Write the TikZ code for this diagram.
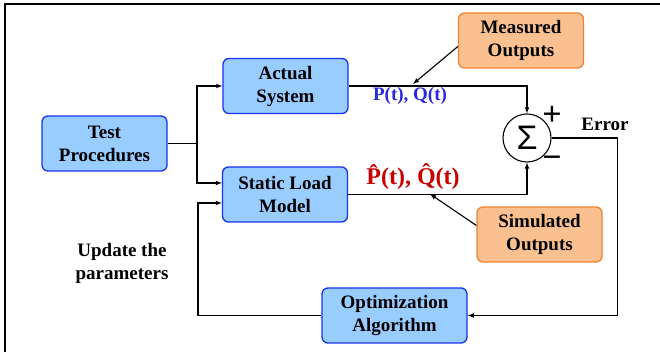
\documentclass[tikz,border=0pt]{standalone}
\usepackage{fontspec}
\setmainfont{Liberation Serif}
\newfontfamily\sigmafont{Liberation Sans}
\usepackage{xcolor}

\definecolor{boxblue}{RGB}{153,204,255}
\definecolor{edgeblue}{RGB}{25,50,240}
\definecolor{boxorange}{RGB}{250,192,144}
\definecolor{edgeorange}{RGB}{240,130,50}
\definecolor{pqblue}{RGB}{40,40,220}
\definecolor{pqred}{RGB}{200,0,0}

\tikzset{
	block/.style = {draw=edgeblue, fill=boxblue, line width=1.3pt, rounded corners=6pt,
		minimum width=125pt, minimum height=55pt, inner sep=0pt, align=center,
		font=\fontsize{19}{23}\selectfont\bfseries},
	outbox/.style = {block, draw=edgeorange, fill=boxorange},
	wire/.style = {line width=1.1pt},
	sign/.style = {inner sep=0pt, font=\fontsize{34}{34}\selectfont\bfseries}
}

\begin{document}
\begin{tikzpicture}[x=1pt, y=1pt, >=latex]
	\useasboundingbox (0,0) rectangle (660,352);
	\draw [line width=1.5pt] (5,0) -- (5,348) -- (660,348);
	
	\node [block] (test) at (104.5,208.5) {Test\\Procedures};
	\node [block] (actual) at (285.5,266) {Actual\\System};
	\node [block] (static) at (285,157.5) {Static Load\\Model};
	\node [outbox] (meas) at (521,311.5) {Measured\\Outputs};
	\node [outbox] (sim) at (539.5,117.5) {Simulated\\Outputs};
	\node [block, minimum width=145pt] (opt) at (394.5,36.5) {Optimization\\Algorithm};
	
	\node [draw, circle, line width=1.1pt, minimum size=48pt, inner sep=0pt] (sum) at (527,214)
		{\sigmafont\fontsize{34}{34}\selectfont Σ};
	\node [sign] (plus) at (552,236) {+};
	\node [sign] (minus) at (552,190) {−};
	
	\node [font=\fontsize{19}{23}\selectfont\bfseries] (err) at (605,228) {Error};
	\node [font=\fontsize{19}{23}\selectfont\bfseries, text=pqblue] (pq) at (410,256) {P(t), Q(t)};
	\node [font=\fontsize{24}{28}\selectfont\bfseries, text=pqred] (pqhat) at (413,175) {\^{P}(t), \^{Q}(t)};
	\node [font=\fontsize{19}{23}\selectfont\bfseries, align=center] (upd) at (122,89) {Update the\\parameters};
	
	\coordinate (split) at (197,208.5);
	\coordinate (fb) at (198,36.5);
	\coordinate (mtip) at (413,268);
	\coordinate (stip) at (430,158);
	
	\draw [wire] (test.east) -- (split);
	\draw [wire, ->] (split) |- (actual.west);
	\draw [wire, ->] (split) |- ([yshift=11.5pt]static.west);
	\draw [wire, ->] (actual.east) -| (sum.north);
	\draw [wire, ->] (static.east) -| (sum.south);
	\draw [wire, ->] (sum.east) -- ++(66,0) |- (opt.east);
	\draw [wire, ->] (opt.west) -- (fb) |- ([yshift=-8.5pt]static.west);
	\draw [wire, ->] ([yshift=-6pt]meas.west) -- (mtip);
	\draw [wire, ->] ([yshift=9pt]sim.west) -- (stip);
\end{tikzpicture}
\end{document}
